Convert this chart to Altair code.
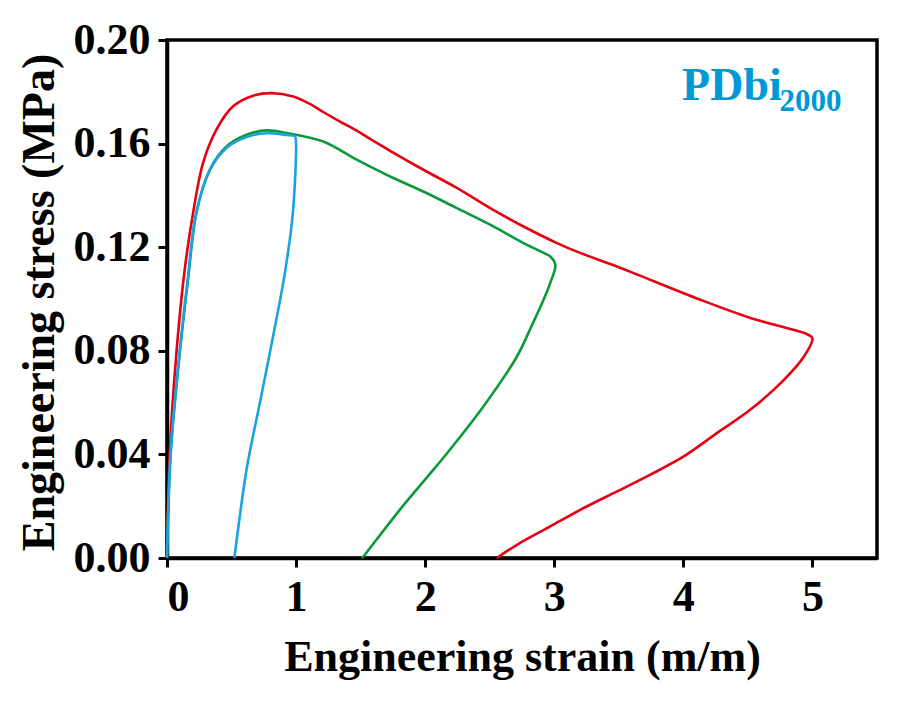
import altair as alt
import pandas as pd

# PDbi2000 cyclic tensile curves (strain m/m, stress MPa)
red_x = [0, 0.021, 0.073, 0.137, 0.202, 0.279, 0.383, 0.512, 0.667, 0.810, 0.977, 1.100, 1.210, 1.340, 1.469,
         1.600, 1.728, 1.986, 2.245, 2.503, 2.762, 3.021, 3.200, 3.434, 3.615, 4.132, 4.520, 4.860, 4.940, 4.999,
         4.934, 4.779, 4.520, 4.262, 4.003, 3.745, 3.486, 3.228, 2.969, 2.711, 2.555]
red_y = [0, 0.0407, 0.0792, 0.1113, 0.1332, 0.1525, 0.1654, 0.1744, 0.1785, 0.1795, 0.1782, 0.1755, 0.1722,
         0.1685, 0.1650, 0.1610, 0.1572, 0.1499, 0.1429, 0.1351, 0.1280, 0.1216, 0.1178, 0.1135, 0.1100, 0.0997,
         0.0927, 0.0880, 0.0868, 0.0849,
         0.0778, 0.0688, 0.0573, 0.0483, 0.0392, 0.0322, 0.0257, 0.0193, 0.0122, 0.0051, 0]

green_x = [0, 0.029, 0.099, 0.163, 0.228, 0.331, 0.461, 0.616, 0.771, 0.926, 1.210, 1.469, 1.728, 1.986,
           2.245, 2.503, 2.762, 2.917, 2.969, 3.008, 2.969, 2.917, 2.818, 2.711, 2.451, 2.193, 2.064,
           1.805, 1.521, 1.51]
green_y = [0, 0.0407, 0.0792, 0.1075, 0.1332, 0.1499, 0.1589, 0.1634, 0.1651, 0.1641, 0.1608, 0.1538,
           0.1473, 0.1415, 0.1351, 0.1287, 0.1216, 0.1178, 0.1164, 0.1132, 0.1062, 0.0997, 0.0889, 0.0778,
           0.0585, 0.0419, 0.0341, 0.0187, 0.0006, 0]

blue_x = [0, 0.028, 0.097, 0.160, 0.225, 0.330, 0.460, 0.616, 0.771, 0.930, 0.991, 0.998, 0.975,
          0.913, 0.822, 0.719, 0.616, 0.525, 0.521]
blue_y = [0, 0.0407, 0.0792, 0.1075, 0.1330, 0.1495, 0.1583, 0.1625, 0.1640, 0.1633, 0.1628, 0.1615,
          0.1332, 0.1100, 0.0856, 0.0598, 0.0341, 0.0013, 0]

series = ["5", "3", "1"]
colors = ["#e60012", "#0a9a3a", "#1aa3e0"]

rows = []
for name, xs, ys in zip(series, [red_x, green_x, blue_x], [red_y, green_y, blue_y]):
    for i, (a, b) in enumerate(zip(xs, ys)):
        rows.append({"series": name, "idx": i, "strain": a, "stress": b})
df = pd.DataFrame(rows)

x_ticks = [0, 1, 2, 3, 4, 5]
y_ticks = [0.00, 0.04, 0.08, 0.12, 0.16, 0.20]

FONT = "Liberation Serif"

x_enc = alt.X("strain:Q", scale=alt.Scale(domain=[0, 5.5], nice=False, zero=False),
              axis=alt.Axis(title="Engineering strain (m/m)", values=x_ticks, format="d",
                            titleBaseline="alphabetic", titleY=112, titlePadding=0))
y_enc = alt.Y("stress:Q", scale=alt.Scale(domain=[0, 0.20], nice=False),
              axis=alt.Axis(title="Engineering stress (MPa)", values=y_ticks, format=".2f",
                            titleAngle=270, titleBaseline="alphabetic", titleX=-114, titleY=262,
                            titleAlign="center", titleFontSize=46))

lines = alt.Chart(df).mark_line(strokeWidth=2.6, interpolate="catmull-rom").encode(
    x=x_enc, y=y_enc,
    color=alt.Color("series:N", scale=alt.Scale(domain=series, range=colors), legend=None),
    order="idx:Q",
    detail="series:N",
)

lab_main = pd.DataFrame({"strain": [3.99], "stress": [0.177], "t": ["PDbi"]})
lab_sub = pd.DataFrame({"strain": [4.745], "stress": [0.1724], "t": ["2000"]})

t1 = alt.Chart(lab_main).mark_text(font=FONT, fontWeight="bold", fontSize=46, color="#0098d8",
                                   align="left", baseline="alphabetic").encode(
    x="strain:Q", y="stress:Q", text="t:N")
t2 = alt.Chart(lab_sub).mark_text(font=FONT, fontWeight="bold", fontSize=31, color="#0098d8",
                                  align="left", baseline="alphabetic").encode(
    x="strain:Q", y="stress:Q", text="t:N")

chart = alt.layer(lines, t1, t2).properties(
    width=710, height=518,
    autosize=alt.AutoSizeParams(type="none"),
    padding={"left": 167, "top": 40, "right": 40, "bottom": 145},
    background="white",
).configure_view(
    stroke="black", strokeWidth=3.5,
).configure_axis(
    domainColor="black", domainWidth=3.5,
    tickColor="black", tickWidth=3, tickSize=9,
    labelFont=FONT, labelFontWeight="bold", labelFontSize=44, labelColor="black",
    labelPadding=8,
    titleFont=FONT, titleFontWeight="bold", titleFontSize=44, titleColor="black",
    grid=False,
)

chart.save("out.html", embed_options={"renderer": "svg", "actions": False})
